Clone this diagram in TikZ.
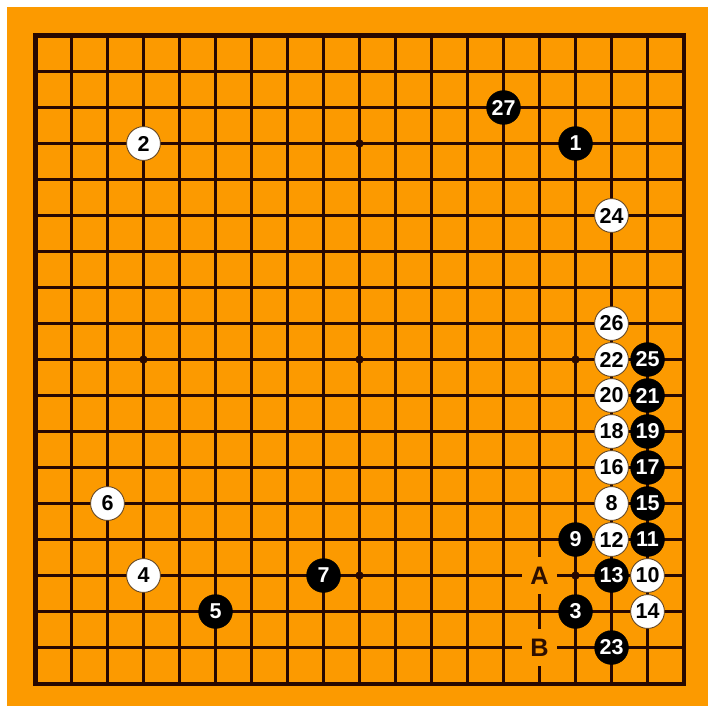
\documentclass[tikz,border=0pt]{standalone}
\usepackage{fontspec}
\setmainfont{Liberation Sans}
\definecolor{board}{RGB}{252,154,0}
\definecolor{gridink}{RGB}{40,8,0}
\definecolor{labelink}{RGB}{45,15,0}
\definecolor{rimink}{RGB}{100,70,35}

\begin{document}
\begin{tikzpicture}[x=1cm, y=-1cm,
    gridline/.style={draw=gridink, line width=1.8pt},
    border/.style={draw=gridink, line width=3.2pt},
    hoshi/.style={circle, fill=gridink, inner sep=0pt, minimum size=0.23cm},
    stone/.style={circle, minimum size=0.94cm, inner sep=0pt, font=\bfseries\fontsize{17}{17}\selectfont},
    blackstone/.style={stone, fill=black, draw=black, text=white},
    whitestone/.style={stone, fill=white, draw=rimink, line width=0.7pt, text=black},
    marklabel/.style={fill=board, inner sep=0pt, minimum width=0.97cm, minimum height=1.03cm, text=labelink, font=\bfseries\fontsize{20}{20}\selectfont}
]
    % Page and board
    \useasboundingbox (-0.986,-0.986) rectangle (18.68,18.625);
    \fill[white] (-0.986,-0.986) rectangle (18.68,18.625);
    \fill[board] (-0.79,-0.79) rectangle (18.68,18.625);

    % Grid
    \foreach \i in {1,...,17} {
        \draw[gridline] (\i,0) -- (\i,18);
        \draw[gridline] (0,\i) -- (18,\i);
    }
    \draw[border] (0,0) rectangle (18,18);

    % Star points
    \foreach \c in {3,9,15}
        \foreach \r in {3,9,15}
            \node[hoshi] (star\c\r) at (\c,\r) {};

    % Marks
    \node[marklabel] (markA) at (14,15) {A};
    \node[marklabel] (markB) at (14,17) {B};

    % Black stones
    \foreach \c/\r/\n in {15/3/1, 15/16/3, 5/16/5, 8/15/7, 15/14/9, 17/14/11,
                          16/15/13, 17/13/15, 17/12/17, 17/11/19, 17/10/21,
                          16/17/23, 17/9/25, 13/2/27}
        \node[blackstone] (move\n) at (\c,\r) {\n};

    % White stones
    \foreach \c/\r/\n in {3/3/2, 3/15/4, 2/13/6, 16/13/8, 17/15/10, 16/14/12,
                          17/16/14, 16/12/16, 16/11/18, 16/10/20, 16/9/22,
                          16/5/24, 16/8/26}
        \node[whitestone] (move\n) at (\c,\r) {\n};
\end{tikzpicture}
\end{document}
